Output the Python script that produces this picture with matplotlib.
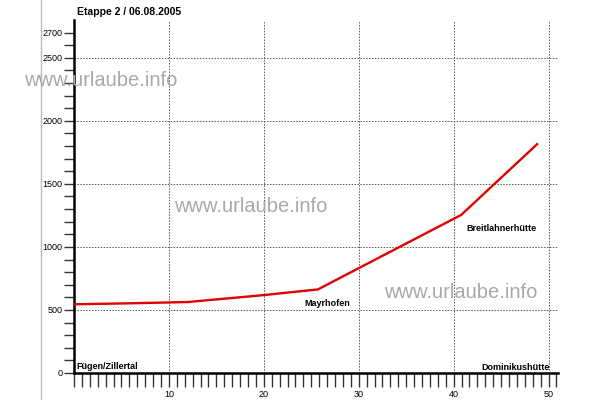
import matplotlib
matplotlib.use("Agg")
import matplotlib.pyplot as plt
import numpy as np
from matplotlib.lines import Line2D

plt.rcParams['font.family'] = ['Liberation Sans', 'DejaVu Sans']

# data
dist = [0, 6, 12, 20, 25.7, 40.8, 48.8]
elev = [545, 553, 563, 618, 663, 1254, 1815]
places = ["Fügen/Zillertal", "Mayrhofen", "Breitlahnerhütte", "Dominikushütte"]
place_x = [0.3, 26.7, 41.3, 50.1]
place_y = [50, 550, 1143, 45]
place_ha = ["left", "center", "left", "right"]
title = "Etappe 2 / 06.08.2005"
y_major = [0, 500, 1000, 1500, 2000, 2500, 2700]
y_grid = [500, 1000, 1500, 2000, 2500]
x_major = [10, 20, 30, 40, 50]
watermark = "www.urlaube.info"

fig = plt.figure(figsize=(6, 4), dpi=100)
fig.patch.set_facecolor("white")
ax = fig.add_axes([74/600, 27/400, 484/600, 353/400])
ax.set_xlim(0, 51)
ax.set_ylim(0, 2800)

for s in ["top", "right"]:
    ax.spines[s].set_visible(False)
for s in ["left", "bottom"]:
    ax.spines[s].set_linewidth(1.8)
    ax.spines[s].set_color("black")

for g in y_grid:
    ax.axhline(g, color="#555555", lw=0.7, ls=(0, (1.5, 1.5)), zorder=1)
for g in x_major:
    ax.axvline(g, color="#555555", lw=0.7, ls=(0, (1.5, 1.5)), zorder=1)

ax.plot(dist, elev, color="#e00000", lw=1.7, zorder=3, solid_joinstyle="miter")

ax.set_yticks(y_major)
ax.set_yticklabels([str(v) for v in y_major])
ax.set_yticks([v for v in range(0, 2800, 100) if v not in y_major], minor=True)
ax.set_xticks([0] + x_major)
ax.set_xticklabels([""] + [str(v) for v in x_major])
ax.set_xticks([k * 10 / 12 for k in range(0, 62) if k % 12 != 0 and k * 10 / 12 <= 51], minor=True)

ax.tick_params(axis="y", which="both", direction="out", length=7, width=1, color="#333333",
               labelsize=6.5, pad=1.5, labelcolor="black")
ax.tick_params(axis="x", which="both", direction="out", length=10, width=1, color="#333333",
               labelsize=6.5, pad=2, labelcolor="black")

for name, px, py, ha in zip(places, place_x, place_y, place_ha):
    ax.text(px, py, name, fontsize=6.5, fontweight="bold", ha=ha, va="center", zorder=4)

fig.text(77/600, 1 - 12/400, title, fontsize=7.5, fontweight="bold", ha="left", va="center")

for wx, wy in [(101/600, 1 - 80/400), (251/600, 1 - 206/400), (461/600, 1 - 292/400)]:
    fig.text(wx, wy, watermark, fontsize=14.5, color="#a8a8a8", ha="center", va="center", zorder=5)

fig.add_artist(Line2D([41/600, 41/600], [0, 1], color="#bbbbbb", lw=1, transform=fig.transFigure))

fig.savefig("out.png", dpi=100)
